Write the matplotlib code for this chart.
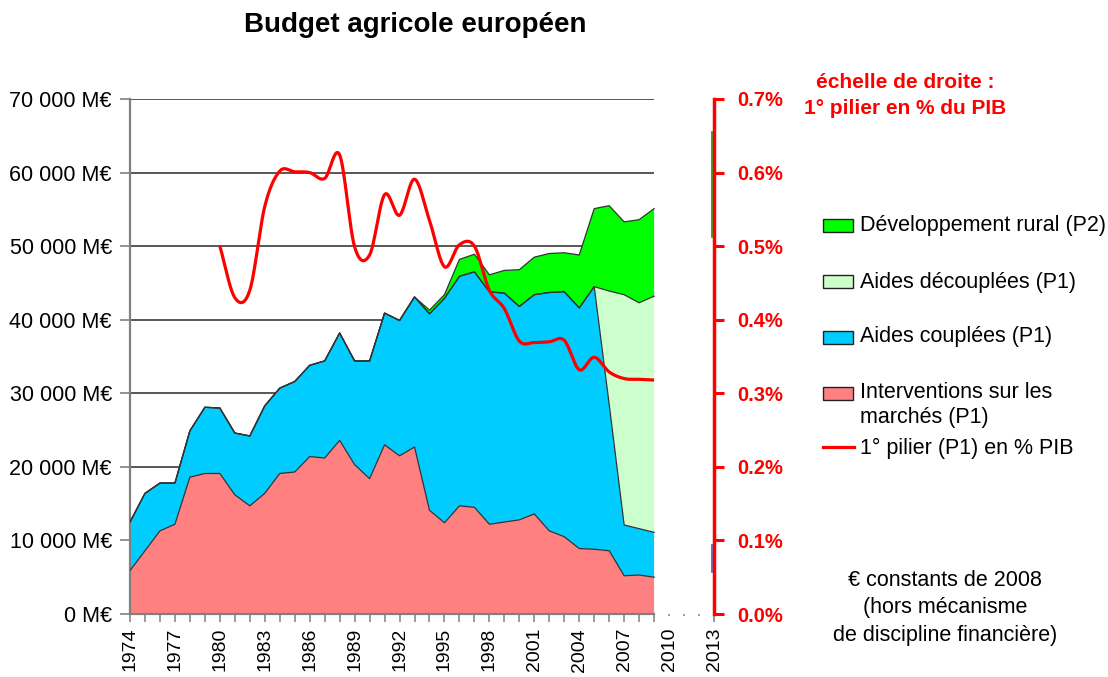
import numpy as np
import matplotlib
matplotlib.use("Agg")
import matplotlib.pyplot as plt
from matplotlib.patches import Rectangle
from matplotlib.lines import Line2D
import matplotlib.transforms as mtrans

plt.rcParams['font.family'] = ['Liberation Sans', 'DejaVu Sans']

# ---------------- data (M€ constants 2008, thousands) ----------------
years = list(range(1974, 2010))
interventions = [5.9, 8.6, 11.3, 12.2, 18.6, 19.1, 19.1, 16.2, 14.7, 16.4,
                 19.1, 19.3, 21.4, 21.2, 23.6, 20.3, 18.4, 23.0, 21.5, 22.7,
                 14.1, 12.4, 14.7, 14.5, 12.2, 12.5, 12.8, 13.6, 11.3, 10.5,
                 8.9, 8.8, 8.6, 5.2, 5.3, 5.0]
aides_couplees = [6.6, 7.8, 6.5, 5.6, 6.3, 9.0, 8.9, 8.4, 9.5, 11.9,
                  11.6, 12.3, 12.4, 13.2, 14.6, 14.1, 16.0, 17.9, 18.4, 20.4,
                  26.7, 30.5, 31.2, 32.0, 31.6, 31.1, 29.0, 29.8, 32.4, 33.3,
                  32.7, 35.7, 19.9, 6.9, 6.3, 6.1]
aides_decouplees = [0.0] * 31 + [0.0, 15.4, 31.3, 30.7, 32.1]
dev_rural = [0.0] * 20 + [0.5, 0.5, 2.3, 2.4, 2.3, 3.1, 5.0, 5.1, 5.3, 5.3,
                          7.2, 10.6, 11.6, 9.9, 11.3, 11.9]

# single point shown at 2013
year_2013 = 2013
interventions_2013 = 5.7
couplees_2013 = 3.7
decouplees_2013 = 41.8
rural_2013 = 14.3

pct_years = list(range(1980, 2010))
pilier1_pct = [0.500, 0.430, 0.440, 0.554, 0.602, 0.601, 0.600, 0.592, 0.624, 0.499,
               0.488, 0.570, 0.542, 0.591, 0.535, 0.472, 0.502, 0.500, 0.440, 0.415,
               0.371, 0.369, 0.370, 0.372, 0.332, 0.349, 0.329, 0.320, 0.319, 0.318]

label_years = list(range(1974, 2014, 3))
left_ticks = list(range(0, 70001, 10000))
right_ticks = [0.0, 0.1, 0.2, 0.3, 0.4, 0.5, 0.6, 0.7]

# ---------------- styles ----------------
C_INT = '#FF8080'
C_CPL = '#00CCFF'
C_DEC = '#CCFFCC'
C_RUR = '#00FF00'
C_RED = '#FF0000'
EDGE = '#333333'

W, H = 1108, 677
fig = plt.figure(figsize=(W / 100, H / 100), dpi=100)
ax = fig.add_axes([130 / W, 63 / H, 584 / W, 515 / H])

x = np.array(years, dtype=float)
s1 = np.array(interventions) * 1000
s2 = s1 + np.array(aides_couplees) * 1000
s3 = s2 + np.array(aides_decouplees) * 1000
s4 = s3 + np.array(dev_rural) * 1000

# gridlines (only over the data span)
for v in left_ticks[1:]:
    ax.plot([years[0], years[-1]], [v, v], color='#2a2a2a', lw=1.1, zorder=0.5,
            solid_capstyle='butt')

layers = [(np.zeros_like(s1), s1, C_INT), (s1, s2, C_CPL), (s2, s3, C_DEC), (s3, s4, C_RUR)]
for lo, hi, c in layers:
    ax.fill_between(x, lo, hi, facecolor=c, edgecolor='none', zorder=2)
for top in (s1, s2, s3, s4):
    ax.plot(x, top, color=EDGE, lw=0.9, zorder=3)

# 2013 single point (zero-width area)
off = mtrans.offset_copy(ax.transData, fig=fig, x=-2.5, y=0, units='dots')
b1 = interventions_2013 * 1000
b2 = b1 + couplees_2013 * 1000
b3 = b2 + decouplees_2013 * 1000
b4 = b3 + rural_2013 * 1000
ax.plot([year_2013, year_2013], [b1, b2], color='#3060C0', lw=1.2, transform=off, zorder=3)
ax.plot([year_2013, year_2013], [b3, b4], color='#00A000', lw=1.2, transform=off, zorder=3)

ax.set_xlim(1974, 2013)
ax.set_ylim(0, 70000)

for side in ('top', 'right'):
    ax.spines[side].set_visible(False)
ax.spines['left'].set_color('#808080')
ax.spines['left'].set_linewidth(1.6)
ax.spines['bottom'].set_color('#808080')
ax.spines['bottom'].set_linewidth(1.6)
ax.spines['bottom'].set_bounds(1974, 2009)

ax.set_yticks(left_ticks)
ax.set_yticklabels([(f"{v:,}".replace(",", " ") + " M€") for v in left_ticks])
ax.tick_params(axis='y', direction='out', length=7, width=1.2, color='#808080',
               pad=6, labelsize=15.5, labelcolor='black')

all_years = list(range(1974, 2014))
ax.set_xticks(all_years)
ax.set_xticklabels([str(y) if y in label_years else '' for y in all_years],
                   rotation=90, va='top', ha='center')
ax.tick_params(axis='x', direction='out', length=6, width=1.1, color='#808080',
               pad=4, labelsize=14, labelcolor='black')
for t, y in zip(ax.xaxis.get_major_ticks(), all_years):
    if 2009 < y < 2013:
        t.tick1line.set_markersize(1.5)

# right axis
ax2 = ax.twinx()
ax2.set_ylim(0, 0.7)
ax2.set_xlim(1974, 2013)
for side in ('top', 'left', 'bottom'):
    ax2.spines[side].set_visible(False)
ax2.spines['right'].set_color(C_RED)
ax2.spines['right'].set_linewidth(2.5)
ax2.set_yticks(right_ticks)
ax2.set_yticklabels([f"{v:.1f}%" for v in right_ticks])
ax2.tick_params(axis='y', direction='out', length=7, width=2.2, color=C_RED,
                pad=10, labelsize=14.5, labelcolor=C_RED)
for lab in ax2.get_yticklabels():
    lab.set_fontweight('bold')


def smooth(xs, ys, n=24):
    xs = np.asarray(xs, float)
    ys = np.asarray(ys, float)
    m = len(xs)
    tx = np.zeros(m)
    ty = np.zeros(m)
    for i in range(m):
        i0 = max(i - 1, 0)
        i1 = min(i + 1, m - 1)
        tx[i] = (xs[i1] - xs[i0]) / (i1 - i0) if i1 != i0 else 0
        ty[i] = (ys[i1] - ys[i0]) / (i1 - i0) if i1 != i0 else 0
    ox, oy = [], []
    for i in range(m - 1):
        t = np.linspace(0, 1, n, endpoint=False)
        h00 = 2 * t**3 - 3 * t**2 + 1
        h10 = t**3 - 2 * t**2 + t
        h01 = -2 * t**3 + 3 * t**2
        h11 = t**3 - t**2
        ox.append(h00 * xs[i] + h10 * tx[i] + h01 * xs[i + 1] + h11 * tx[i + 1])
        oy.append(h00 * ys[i] + h10 * ty[i] + h01 * ys[i + 1] + h11 * ty[i + 1])
    ox.append([xs[-1]])
    oy.append([ys[-1]])
    return np.concatenate(ox), np.concatenate(oy)


sx, sy = smooth(pct_years, pilier1_pct)
ax2.plot(sx, sy, color=C_RED, lw=2.3, solid_capstyle='butt', zorder=5)

# title
fig.text(415 / W, 1 - 25 / H, "Budget agricole européen", ha='center', va='center',
         fontsize=20, fontweight='bold')

# right-scale note
fig.text(905 / W, 1 - 82 / H, "échelle de droite :", ha='center', va='center',
         fontsize=15, fontweight='bold', color=C_RED)
fig.text(905 / W, 1 - 109 / H, "1° pilier en % du PIB", ha='center', va='center',
         fontsize=15, fontweight='bold', color=C_RED)

# legend (manual)
legend_items = [
    (226, C_RUR, "Développement rural (P2)"),
    (282, C_DEC, "Aides découplées (P1)"),
    (337, C_CPL, "Aides couplées (P1)"),
    (393, C_INT, "Interventions sur les"),
]
for yc, col, txt in legend_items:
    fig.patches.append(Rectangle((823 / W, 1 - (yc + 6.5) / H), 30 / W, 13 / H,
                                 transform=fig.transFigure, facecolor=col,
                                 edgecolor='#222222', lw=1.0))
    fig.text(860 / W, 1 - yc / H, txt, ha='left', va='center', fontsize=15.5)
fig.text(860 / W, 1 - 418 / H, "marchés (P1)", ha='left', va='center', fontsize=15.5)
fig.lines.append(Line2D([823 / W, 854 / W], [1 - 447 / H, 1 - 447 / H],
                        transform=fig.transFigure, color=C_RED, lw=2.3))
fig.text(860 / W, 1 - 448 / H, "1° pilier (P1) en % PIB", ha='left', va='center', fontsize=15.5)

# bottom-right note
for yc, txt in [(580, "€ constants de 2008"), (608, "(hors mécanisme"),
                (636, "de discipline financière)")]:
    fig.text(945 / W, 1 - yc / H, txt, ha='center', va='center', fontsize=15.5)

fig.savefig("out.png", dpi=100)
